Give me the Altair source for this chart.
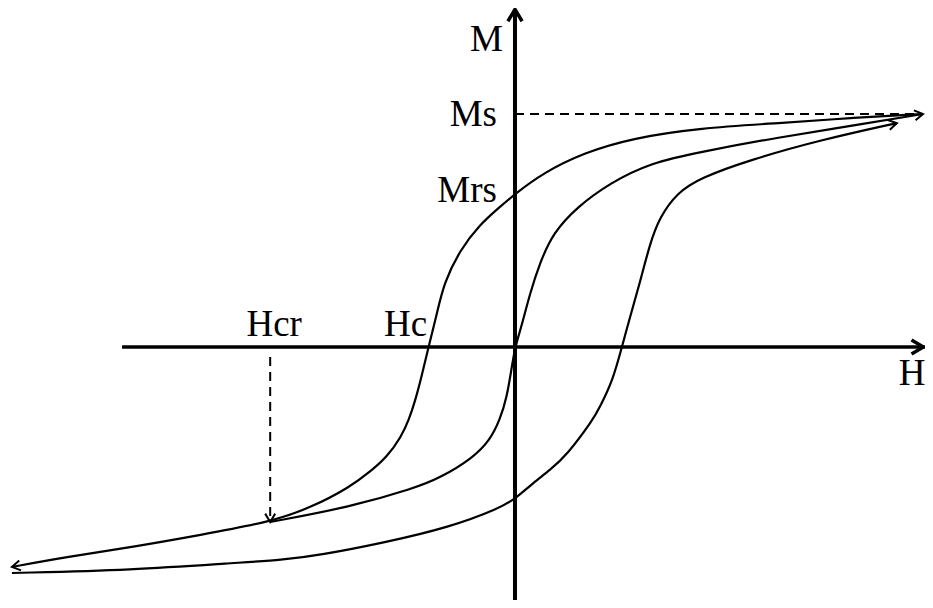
import math
import altair as alt
import pandas as pd

# ---- data (H and M in relative units: H_sat = 100, Ms = 100) ----
# major loop, descending branch (from +saturation down to the far negative field)
desc_H = [-123.3, -109.8, -93.6, -77.2, -60.0, -50.2, -40.4, -35.0, -31.4, -27.9, -26.0, -24.4, -22.8,
          -21.2, -19.1, -17.4, -13.5, -8.6, -3.7, 0.0, 6.9, 16.7, 28.9, 45.3, 65.0, 82.1, 100.0]
desc_M = [-94.4, -90.1, -85.8, -80.7, -75.1, -69.1, -60.1, -52.8, -47.2, -38.6, -31.3, -22.7, -12.0,
          0.0, 14.6, 27.5, 41.6, 52.6, 60.1, 65.7, 74.7, 83.3, 89.7, 94.0, 96.1, 98.3, 100.0]

# remanence curve from the Hcr point back up to saturation
rem_H = [-60.0, -40.4, -24.5, -18.4, -10.3, -6.1, -3.7, -2.0, -0.9, 0.0, 1.5, 3.7, 6.1, 9.3, 15.2,
         23.3, 33.1, 45.3, 65.0, 82.1, 100.0]
rem_M = [-75.1, -68.7, -60.5, -56.2, -47.6, -39.9, -31.3, -21.5, -9.9, 0.0, 8.2, 23.2, 36.1, 48.9, 60.1,
         70.4, 79.0, 83.7, 90.1, 94.8, 100.0]

# major loop, ascending branch
asc_H = [-123.3, -93.6, -69.1, -56.9, -47.8, -32.4, -15.9, -3.7, 0.0, 4.4, 8.6, 12.7, 19.1, 20.8, 24.0,
         26.2, 28.2, 30.6, 33.1, 35.5, 39.7, 45.3, 57.6, 74.8, 93.6]
asc_M = [-97.0, -95.7, -92.7, -91.4, -89.3, -84.1, -77.3, -69.1, -65.2, -58.4, -52.8, -46.4, -31.3, -25.8,
         -14.2, 0.0, 12.9, 27.5, 44.6, 55.8, 66.1, 72.5, 80.3, 88.8, 96.1]

# characteristic values
Ms = 100.0
Mrs = 65.7
Hc = -21.2
Hcr = -60.0
M_at_Hcr = -75.1

# axis extents
H_axis_start = -96.3
H_MIN, H_MAX = -124.26, 100.49
M_MIN, M_MAX = -108.58, 145.49

W, HT = 917, 592
px_x = W / (H_MAX - H_MIN)
px_y = HT / (M_MAX - M_MIN)

rows = []
for name, hs, ms in [("desc", desc_H, desc_M), ("rem", rem_H, rem_M), ("asc", asc_H, asc_M)]:
    for h, m in zip(hs, ms):
        rows.append({"curve": name, "H": h, "M": m})
curves = pd.DataFrame(rows)


def screen_angle(h0, m0, h1, m1):
    dx = (h1 - h0) * px_x
    dy = -(m1 - m0) * px_y
    a = math.degrees(math.atan2(dy, dx))
    return a % 360


# arrowheads at the ends of the curves
heads = pd.DataFrame([
    {"H": desc_H[0], "M": desc_M[0], "ang": screen_angle(desc_H[1], desc_M[1], desc_H[0], desc_M[0])},
    {"H": rem_H[-1], "M": rem_M[-1], "ang": screen_angle(rem_H[-2], rem_M[-2], rem_H[-1], rem_M[-1])},
    {"H": asc_H[-1], "M": asc_M[-1], "ang": screen_angle(asc_H[-2], asc_M[-2], asc_H[-1], asc_M[-1])},
    {"H": Hcr, "M": M_at_Hcr, "ang": 90.0},
])
axis_heads = pd.DataFrame([
    {"H": H_MAX - 0.4, "M": 0.0, "ang": 0.0},
    {"H": 0.0, "M": M_MAX - 0.6, "ang": 270.0},
])

X = alt.Scale(domain=[H_MIN, H_MAX], nice=False, zero=False)
Y = alt.Scale(domain=[M_MIN, M_MAX], nice=False, zero=False)

CHEV = "M -1 -0.6 L 0 0 L -1 0.6"

h_axis = alt.Chart(pd.DataFrame([{"H1": H_axis_start, "H2": H_MAX, "M": 0.0}])).mark_rule(
    color="black", strokeWidth=3.5).encode(
    x=alt.X("H1:Q", scale=X, axis=None), x2="H2:Q", y=alt.Y("M:Q", scale=Y, axis=None))
v_axis = alt.Chart(pd.DataFrame([{"H": 0.0, "M1": M_MIN, "M2": M_MAX - 0.6}])).mark_rule(
    color="black", strokeWidth=4).encode(
    x=alt.X("H:Q", scale=X, axis=None), y=alt.Y("M1:Q", scale=Y, axis=None), y2="M2:Q")

ms_dash = alt.Chart(pd.DataFrame([{"H1": 0.0, "H2": 100.0, "M": Ms}])).mark_rule(
    color="black", strokeWidth=2, strokeDash=[9, 6]).encode(
    x=alt.X("H1:Q", scale=X, axis=None), x2="H2:Q", y=alt.Y("M:Q", scale=Y, axis=None))
hcr_dash = alt.Chart(pd.DataFrame([{"H": Hcr, "M1": -4.3, "M2": M_at_Hcr}])).mark_rule(
    color="black", strokeWidth=2, strokeDash=[9, 6]).encode(
    x=alt.X("H:Q", scale=X, axis=None), y=alt.Y("M1:Q", scale=Y, axis=None), y2="M2:Q")

lines = alt.Chart(curves).mark_line(color="black", strokeWidth=2.2, interpolate="basis").encode(
    x=alt.X("H:Q", scale=X, axis=None), y=alt.Y("M:Q", scale=Y, axis=None),
    detail="curve:N", order="H:Q")

head_marks = alt.Chart(heads).mark_point(
    shape=CHEV, filled=False, color="black", strokeWidth=2, size=280, opacity=1,
    strokeJoin="miter").encode(
    x=alt.X("H:Q", scale=X, axis=None), y=alt.Y("M:Q", scale=Y, axis=None),
    angle=alt.Angle("ang:Q", scale=None))
axis_head_marks = alt.Chart(axis_heads).mark_point(
    shape=CHEV, filled=False, color="black", strokeWidth=3.5, size=560, opacity=1,
    strokeJoin="miter").encode(
    x=alt.X("H:Q", scale=X, axis=None), y=alt.Y("M:Q", scale=Y, axis=None),
    angle=alt.Angle("ang:Q", scale=None))

FONT = "Liberation Serif"
FS = 37


def label(text, h, m, align, dx, dy):
    return alt.Chart(pd.DataFrame([{"t": text, "H": h, "M": m}])).mark_text(
        font=FONT, fontSize=FS, color="black", align=align, baseline="alphabetic", dx=dx, dy=dy).encode(
        x=alt.X("H:Q", scale=X, axis=None), y=alt.Y("M:Q", scale=Y, axis=None), text="t:N")


labels = [
    label("M", 0.0, 127.0, "right", -12, 0),
    label("Ms", 0.0, Ms, "right", -18, 12),
    label("Mrs", 0.0, Mrs, "right", -18, 8),
    label("Hc", Hc, 0.0, "center", -23, -11),
    label("Hcr", Hcr, 0.0, "center", 4, -11),
    label("H", 97.3, 0.0, "center", 0, 38),
]

chart = alt.layer(h_axis, v_axis, ms_dash, hcr_dash, lines, head_marks, axis_head_marks, *labels).properties(
    width=W, height=HT, padding=0, autosize=alt.AutoSizeParams(type="none"),
    background="white").configure_view(stroke=None)

chart.save("out.html", embed_options={"renderer": "svg", "actions": False})
